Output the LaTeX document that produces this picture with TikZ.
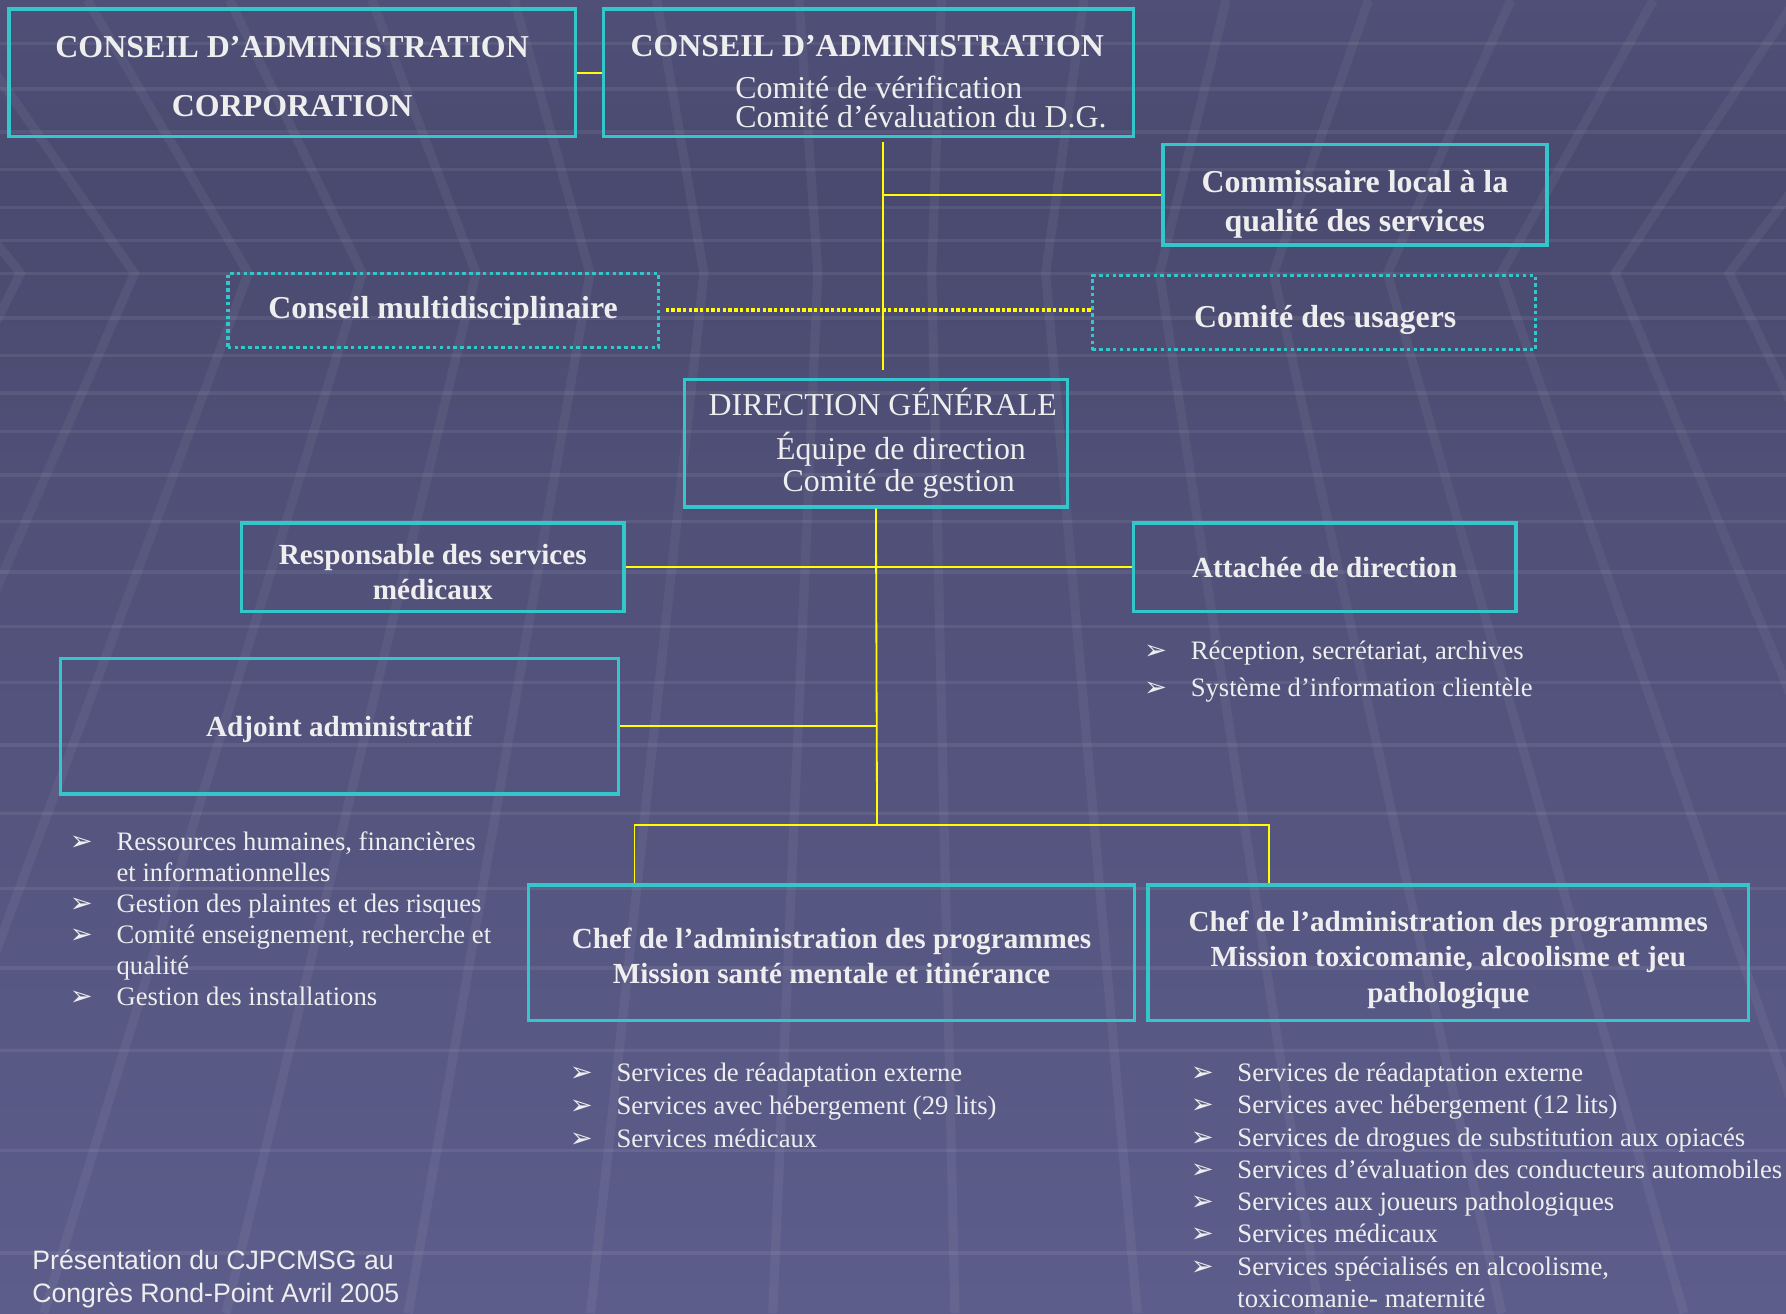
\documentclass[tikz,border=0pt]{standalone}
\usepackage{fontspec}
\setmainfont{Liberation Serif}
\newfontfamily\arialf{Liberation Sans}
\newfontfamily\dingf{DejaVu Sans}
\usetikzlibrary{positioning}
\definecolor{cyanbord}{RGB}{51,199,204}
\definecolor{jaune}{RGB}{255,255,0}
\definecolor{blanc}{RGB}{238,238,238}
\definecolor{bghaut}{RGB}{96,96,148}
\definecolor{bgmilieu}{RGB}{74,74,112}
\definecolor{bgbas}{RGB}{104,104,156}
\pgfdeclareverticalshading{fond}{100bp}{color(0bp)=(bgbas); color(68bp)=(bgmilieu); color(100bp)=(bghaut)}
\newcommand{\puce}{\makebox[20.5pt][l]{\dingf\fontsize{12}{12}\selectfont ➢}}
\newcommand{\retrait}{\hspace*{20.5pt}}
\newcommand{\haut}[1]{\rule{0pt}{#1}}
\tikzset{
  boite/.style={draw=cyanbord, line width=1.5pt, text=blanc, align=center, inner sep=0pt},
  pointille/.style={boite, dash pattern=on 1.6pt off 1.4pt},
  titre/.style={font=\bfseries\fontsize{14}{16}\selectfont},
  moyen/.style={font=\bfseries\fontsize{12.8}{15.5}\selectfont},
  liste/.style={text=blanc, align=left, inner sep=0pt, anchor=north west},
  lien/.style={draw=jaune, line width=0.8pt},
  rayure/.style={white, opacity=0.05, line width=4pt},
}

\begin{document}
\begin{tikzpicture}[x=0.5pt,y=-0.5pt]
  % fond
  \shade[shading=fond] (0,0) rectangle (1568,1153);
  \useasboundingbox (0,0) rectangle (1568,1153);
  \begin{scope}
    \clip (0,0) rectangle (1568,1153);
    \foreach \y in {38,78,116,149,182,211,240,279,312,345,379,417,458,502,550,599,654,714,780,850,922,1010,1100}
      \draw[white, opacity=0.07, line width=1.5pt] (0,\y) -- (1568,\y);
    \foreach \i in {0,...,15}{
      \pgfmathsetmacro{\xh}{18+100*\i}
      \pgfmathsetmacro{\xt}{784+(\xh-784)*1.25}
      \pgfmathsetmacro{\xb}{784+(\xh-784)*1.6}
      \draw[rayure] (\xt,0) -- (\xh,240) -- (\xb,1153);
    }
  \end{scope}

  % conseils
  \node[boite, titre, minimum width=248.5pt, minimum height=56pt] (corp) at (256.5,64)
    {\haut{12.5pt}CONSEIL D’ADMINISTRATION\\[10pt]CORPORATION};
  \node[boite, titre, align=left, minimum width=232.5pt, minimum height=56pt] (ca) at (762.5,64)
    {\haut{17pt}CONSEIL D’ADMINISTRATION\\[2.5pt]
     \mdseries\hspace*{46pt}Comité de vérification\\[-3pt]
     \mdseries\hspace*{46pt}Comité d’évaluation du D.G.};
  \node[boite, titre, minimum width=168.5pt, minimum height=44pt] (cmsq) at (1189.5,171)
    {\haut{18pt}Commissaire local à la\\[1pt]qualité des services};
  \node[pointille, titre, minimum width=189pt, minimum height=32.5pt] (cmd) at (389,272.5)
    {Conseil multidisciplinaire};
  \node[pointille, titre, minimum width=194.5pt, minimum height=32.5pt] (usagers) at (1153.5,274.5)
    {\haut{16pt}\hspace*{10pt}Comité des usagers};

  % direction
  \node[boite, font=\fontsize{14}{16}\selectfont, minimum width=168pt, minimum height=56pt] (dg) at (769,389)
    {\hspace*{6pt}DIRECTION GÉNÉRALE\\[3.5pt]\hspace*{22pt}Équipe de direction\\[-2pt]\hspace*{20pt}Comité de gestion};
  \node[boite, moyen, minimum width=168pt, minimum height=39pt] (resp) at (380,498)
    {\haut{13pt}Responsable des services\\médicaux};
  \node[boite, moyen, minimum width=168pt, minimum height=39pt] (att) at (1163,498)
    {Attachée de direction};
  \node[boite, moyen, minimum width=245pt, minimum height=59.5pt] (adj) at (298,637.5)
    {\haut{12pt}Adjoint administratif};
  \node[boite, moyen, minimum width=266pt, minimum height=59.5pt] (chefA) at (730,836.5)
    {\haut{11.5pt}Chef de l’administration des programmes\\Mission santé mentale et itinérance};
  \node[boite, moyen, minimum width=263.5pt, minimum height=59.5pt] (chefB) at (1271.5,836.5)
    {\haut{15pt}Chef de l’administration des programmes\\Mission toxicomanie, alcoolisme et jeu\\pathologique};

  % listes
  \node[liste, font=\fontsize{11.7}{16.5}\selectfont] (attliste) at (1004,562)
    {\puce Réception, secrétariat, archives\\\puce Système d’information clientèle};
  \node[liste, font=\fontsize{11.7}{13.6}\selectfont] (adjliste) at (61,730)
    {\puce Ressources humaines, financières\\
     \retrait et informationnelles\\
     \puce Gestion des plaintes et des risques\\
     \puce Comité enseignement, recherche et\\
     \retrait qualité\\
     \puce Gestion des installations};
  \node[liste, font=\fontsize{11.7}{14.5}\selectfont] (chefAliste) at (500,933)
    {\puce Services de réadaptation externe\\
     \puce Services avec hébergement (29 lits)\\
     \puce Services médicaux};
  \node[liste, font=\fontsize{11.7}{14.15}\selectfont] (chefBliste) at (1045,933)
    {\puce Services de réadaptation externe\\
     \puce Services avec hébergement (12 lits)\\
     \puce Services de drogues de substitution aux opiacés\\
     \puce Services d’évaluation des conducteurs automobiles\\
     \puce Services aux joueurs pathologiques\\
     \puce Services médicaux\\
     \puce Services spécialisés en alcoolisme,\\
     \retrait toxicomanie- maternité};
  \node[liste, font=\arialf\fontsize{11.7}{14.5}\selectfont] (pied) at (28,1097)
    {Présentation du CJPCMSG au\\Congrès Rond-Point Avril 2005};

  % liens
  \coordinate (haut) at (775,125);
  \coordinate (bas) at (775,325);
  \coordinate (noeud) at (770,724);
  \coordinate (gauche) at (557,724);
  \coordinate (droite) at (1114,724);
  \draw[lien] (corp) -- (ca);
  \draw[lien] (haut) -- (bas);
  \draw[lien] (haut |- cmsq) -- (cmsq.west);
  \draw[lien, line width=1.8pt, dash pattern=on 1.5pt off 1pt, shorten <=2.5pt] (cmd.east) -- (cmd.east -| usagers.west);
  \draw[lien] (dg.south) -- (noeud);
  \draw[lien] (resp.east) -- (att.west);
  \draw[lien] (adj.east) -- (adj.east -| noeud);
  \draw[lien] (gauche |- chefA.north) -- (gauche) -- (droite) -- (droite |- chefB.north);
\end{tikzpicture}
\end{document}
